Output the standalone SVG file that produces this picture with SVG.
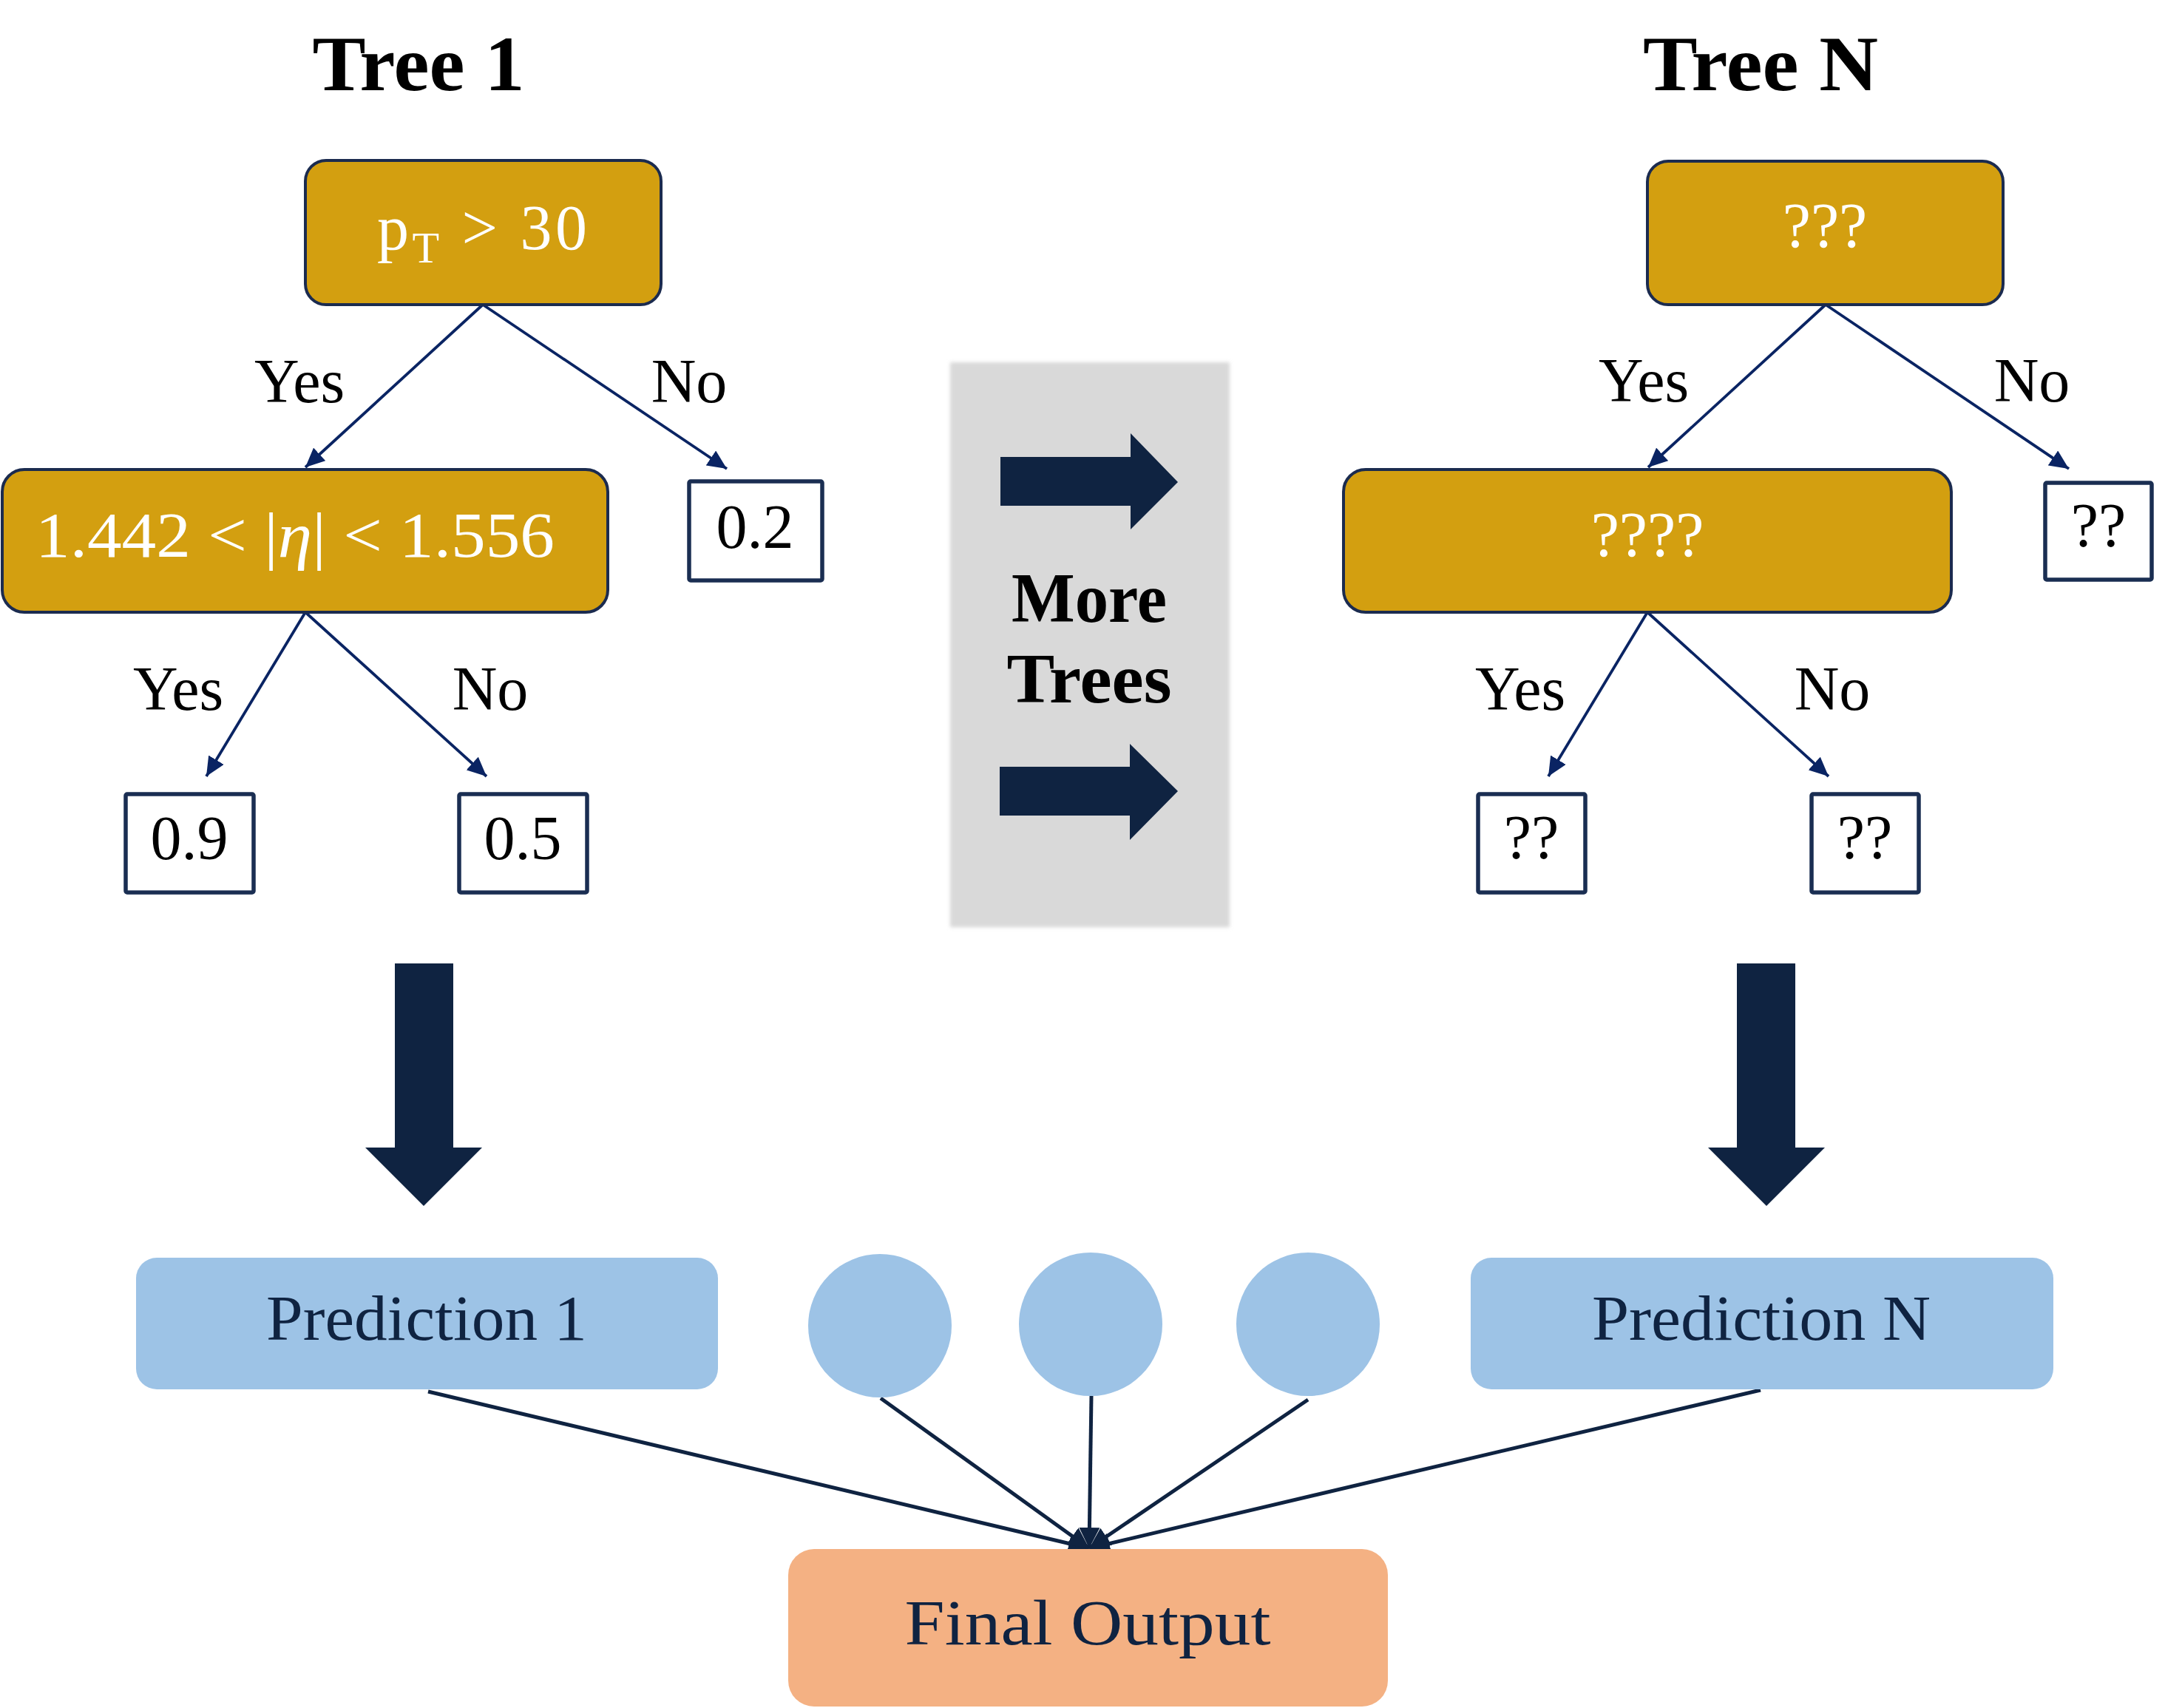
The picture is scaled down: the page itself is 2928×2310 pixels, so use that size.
<svg xmlns="http://www.w3.org/2000/svg" width="2928" height="2310" viewBox="0 0 2928 2310">
<defs>
<style>
.title{font-family:"Liberation Serif","DejaVu Serif",serif;font-weight:bold;fill:#000}
.lbl{font-family:"Liberation Serif","DejaVu Serif",serif;font-size:84px;fill:#000}
.wt{font-family:"Liberation Serif","DejaVu Serif",serif;font-size:86px;fill:#fff}
.dk{font-family:"Liberation Serif","DejaVu Serif",serif;font-size:86px;fill:#0f2341}
.gold{fill:#d39f10;stroke:#1b2b4f;stroke-width:4}
.leaf{fill:#fff;stroke:#1a2e52;stroke-width:5.5}
.blue{fill:#9dc3e6}
.edge{stroke:#0a2463;stroke-width:3.8;fill:none}
.agg{stroke:#0f2341;stroke-width:5;fill:none}
.big{fill:#0f2341}
</style>
<marker id="ah" markerUnits="userSpaceOnUse" markerWidth="26" markerHeight="24" refX="26" refY="12" orient="auto" viewBox="0 0 26 24">
<path d="M0,0 L26,12 L0,24 z" fill="#0a2463"/>
</marker>
<marker id="ah2" markerUnits="userSpaceOnUse" markerWidth="28" markerHeight="28" refX="28" refY="14" orient="auto" viewBox="0 0 28 28">
<path d="M0,0 L28,14 L0,28 z" fill="#0f2341"/>
</marker>
<filter id="soft" x="-5%" y="-5%" width="110%" height="110%">
<feGaussianBlur stdDeviation="2.5"/>
</filter>
</defs>
<rect width="2928" height="2310" fill="#fff"/>

<g id="titles">
<text class="title" x="566" y="122" font-size="106" text-anchor="middle" textLength="287" lengthAdjust="spacingAndGlyphs">Tree 1</text>
<text class="title" x="2381" y="122" font-size="106" text-anchor="middle" textLength="318" lengthAdjust="spacingAndGlyphs">Tree N</text>
</g>

<g id="connectors">
<line class="edge" x1="653" y1="412" x2="413" y2="632" marker-end="url(#ah)"/>
<line class="edge" x1="653" y1="412" x2="983" y2="634" marker-end="url(#ah)"/>
<line class="edge" x1="413" y1="828" x2="279" y2="1050" marker-end="url(#ah)"/>
<line class="edge" x1="413" y1="828" x2="658" y2="1050" marker-end="url(#ah)"/>
<line class="edge" x1="2469" y1="412" x2="2229" y2="632" marker-end="url(#ah)"/>
<line class="edge" x1="2469" y1="412" x2="2798" y2="634" marker-end="url(#ah)"/>
<line class="edge" x1="2228" y1="828" x2="2094" y2="1050" marker-end="url(#ah)"/>
<line class="edge" x1="2228" y1="828" x2="2473" y2="1050" marker-end="url(#ah)"/>
<line class="agg" x1="579" y1="1882" x2="1473" y2="2094" marker-end="url(#ah2)"/>
<line class="agg" x1="1191" y1="1891" x2="1473" y2="2094" marker-end="url(#ah2)"/>
<line class="agg" x1="1476" y1="1888" x2="1473" y2="2094" marker-end="url(#ah2)"/>
<line class="agg" x1="1769" y1="1893" x2="1473" y2="2094" marker-end="url(#ah2)"/>
<line class="agg" x1="2381" y1="1880" x2="1473" y2="2094" marker-end="url(#ah2)"/>
</g>

<g id="edge-labels">
<text class="lbl" x="405" y="544" text-anchor="middle">Yes</text>
<text class="lbl" x="932" y="544" text-anchor="middle">No</text>
<text class="lbl" x="241" y="960" text-anchor="middle">Yes</text>
<text class="lbl" x="663" y="960" text-anchor="middle">No</text>
<text class="lbl" x="2223" y="543" text-anchor="middle">Yes</text>
<text class="lbl" x="2748" y="543" text-anchor="middle">No</text>
<text class="lbl" x="2056" y="960" text-anchor="middle">Yes</text>
<text class="lbl" x="2478" y="960" text-anchor="middle">No</text>
</g>

<g id="t1-root">
<rect class="gold" x="413" y="217" width="481" height="195" rx="28"/>
<text class="wt" x="652" y="337" text-anchor="middle" textLength="284" lengthAdjust="spacing">p<tspan font-size="60" dy="18">T</tspan><tspan dy="-18"> &gt; 30</tspan></text>
</g>
<g id="t1-eta">
<rect class="gold" x="3" y="635" width="819" height="193" rx="30"/>
<text class="wt" x="399" y="753" font-size="84" text-anchor="middle" textLength="702" lengthAdjust="spacingAndGlyphs">1.442 &lt; |<tspan font-style="italic">η</tspan>| &lt; 1.556</text>
</g>
<g id="t1-leaf-02">
<rect class="leaf" x="932" y="651" width="180" height="134" rx="2"/>
<text class="lbl" x="1021" y="741" text-anchor="middle">0.2</text>
</g>
<g id="t1-leaf-09">
<rect class="leaf" x="170" y="1074" width="173" height="133" rx="2"/>
<text class="lbl" x="256" y="1162" text-anchor="middle">0.9</text>
</g>
<g id="t1-leaf-05">
<rect class="leaf" x="621" y="1074" width="173" height="133" rx="2"/>
<text class="lbl" x="707" y="1162" text-anchor="middle">0.5</text>
</g>

<g id="tN-root">
<rect class="gold" x="2228" y="218" width="481" height="194" rx="28"/>
<text class="wt" x="2468" y="334" text-anchor="middle">???</text>
</g>
<g id="tN-inner">
<rect class="gold" x="1817" y="635" width="822" height="193" rx="30"/>
<text class="wt" x="2228" y="752" text-anchor="middle">????</text>
</g>
<g id="tN-leaf-a">
<rect class="leaf" x="2766" y="653" width="144" height="131" rx="2"/>
<text class="lbl" x="2838" y="739" text-anchor="middle">??</text>
</g>
<g id="tN-leaf-b">
<rect class="leaf" x="1999" y="1074" width="145" height="133" rx="2"/>
<text class="lbl" x="2071" y="1161" text-anchor="middle">??</text>
</g>
<g id="tN-leaf-c">
<rect class="leaf" x="2450" y="1074" width="145" height="133" rx="2"/>
<text class="lbl" x="2522" y="1161" text-anchor="middle">??</text>
</g>

<g id="more-trees">
<rect x="1285" y="490" width="378" height="764" fill="#d9d9d9" filter="url(#soft)"/>
<polygon class="big" points="1353,618 1529,618 1529,586 1593,652 1529,716 1529,684 1353,684"/>
<polygon class="big" points="1352,1037 1528,1037 1528,1006 1593,1070 1528,1136 1528,1103 1352,1103"/>
<text class="title" x="1473" y="841" font-size="96" text-anchor="middle" textLength="210" lengthAdjust="spacingAndGlyphs">More</text>
<text class="title" x="1473" y="950" font-size="96" text-anchor="middle" textLength="223" lengthAdjust="spacingAndGlyphs">Trees</text>
</g>

<g id="down-arrow-1">
<polygon class="big" points="534,1303 613,1303 613,1552 652,1552 573,1631 494,1552 534,1552"/>
</g>
<g id="down-arrow-N">
<polygon class="big" points="2349,1303 2428,1303 2428,1552 2468,1552 2389,1631 2310,1552 2349,1552"/>
</g>

<g id="prediction-1">
<rect class="blue" x="184" y="1701" width="787" height="178" rx="28"/>
<text class="dk" x="577" y="1812" text-anchor="middle" textLength="434" lengthAdjust="spacingAndGlyphs">Prediction 1</text>
</g>
<g id="dot-1"><circle class="blue" cx="1190" cy="1793" r="97"/></g>
<g id="dot-2"><circle class="blue" cx="1475" cy="1791" r="97"/></g>
<g id="dot-3"><circle class="blue" cx="1769" cy="1791" r="97"/></g>
<g id="prediction-N">
<rect class="blue" x="1989" y="1701" width="788" height="178" rx="28"/>
<text class="dk" x="2382" y="1812" text-anchor="middle" textLength="458" lengthAdjust="spacingAndGlyphs">Prediction N</text>
</g>
<g id="final-output">
<rect x="1066" y="2095" width="811" height="213" rx="35" fill="#f4b183"/>
<text class="dk" x="1471" y="2224" font-size="88" text-anchor="middle" textLength="495" lengthAdjust="spacingAndGlyphs">Final Output</text>
</g>
</svg>
